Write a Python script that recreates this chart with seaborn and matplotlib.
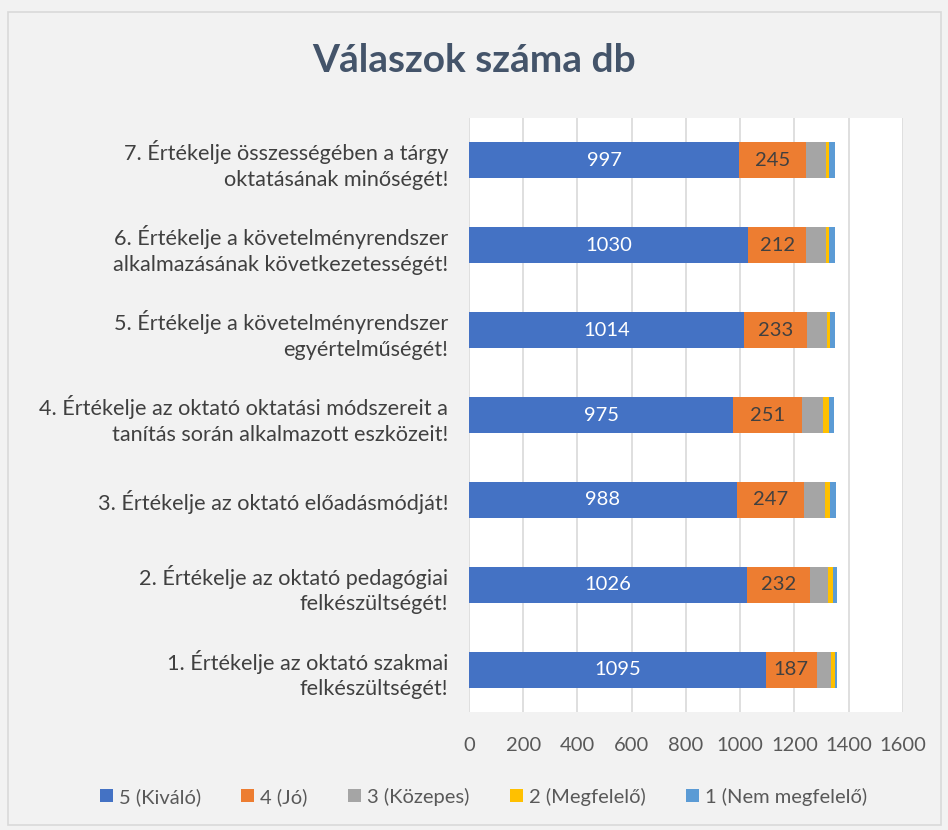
import numpy as np
import pandas as pd
import matplotlib
matplotlib.use("Agg")
import matplotlib.pyplot as plt
from matplotlib.patches import Rectangle, Patch
import seaborn as sns

questions = [
    "7. Értékelje összességében a tárgy\noktatásának minőségét!",
    "6. Értékelje a követelményrendszer\nalkalmazásának következetességét!",
    "5. Értékelje a követelményrendszer\negyértelműségét!",
    "4. Értékelje az oktató oktatási módszereit a\ntanítás során alkalmazott eszközeit!",
    "3. Értékelje az oktató előadásmódját!",
    "2. Értékelje az oktató pedagógiai\nfelkészültségét!",
    "1. Értékelje az oktató szakmai\nfelkészültségét!",
]
series_names = ["5 (Kiváló)", "4 (Jó)", "3 (Közepes)", "2 (Megfelelő)", "1 (Nem megfelelő)"]
v5 = [997, 1030, 1014, 975, 988, 1026, 1095]
v4 = [245, 212, 233, 251, 247, 232, 187]
v3 = [75, 75, 74, 80, 79, 67, 54]
v2 = [11, 11, 11, 22, 18, 18, 14]
v1 = [21, 21, 17, 19, 22, 15, 8]
colors = ["#4472C4", "#ED7D31", "#A5A5A5", "#FFC000", "#5B9BD5"]
label_colors = ["white", "#404040"]
xticks = list(range(0, 1601, 200))

sns.set_theme(style="white")
plt.rcParams["font.family"] = ["Lato", "DejaVu Sans"]

fig = plt.figure(figsize=(9.48, 8.3), dpi=100, facecolor="#F2F2F2")
ax = fig.add_axes([0.4947, 0.142, 0.4578, 0.716])
ax.set_facecolor("white")

vals = np.array([v5, v4, v3, v2, v1])
cum = vals.cumsum(axis=0)
df = pd.DataFrame({"q": questions})
for k in range(len(series_names) - 1, -1, -1):
    df["w"] = cum[k]
    sns.barplot(data=df, x="w", y="q", orient="h", color=colors[k],
                saturation=1, width=0.42, ax=ax, zorder=3, linewidth=0)

# value labels for the two largest segments
for k in range(2):
    for i in range(len(questions)):
        left = cum[k][i] - vals[k][i]
        ax.text(left + vals[k][i] / 2, i, str(vals[k][i]), ha="center", va="center",
                fontsize=14.5, color=label_colors[k], zorder=4)

ax.set_xlim(0, 1600)
ax.set_xticks(xticks)
ax.set_xticklabels([str(t) for t in xticks], fontsize=14.5, color="#595959")
ax.tick_params(axis="y", labelsize=15.6, labelcolor="#404040", pad=15, length=0)
ax.tick_params(axis="x", pad=18, length=0)
for lab in ax.get_yticklabels():
    lab.set_linespacing(1.35)
ax.set_xlabel("")
ax.set_ylabel("")
ax.grid(axis="x", color="#D9D9D9", linewidth=1.2, zorder=0)
sns.despine(ax=ax, left=True, bottom=True)

fig.suptitle("Válaszok száma db", x=0.5, y=0.948, fontsize=28, fontweight="bold",
             color="#44546A")

handles = [Patch(facecolor=c, edgecolor="none") for c in colors]
fig.legend(handles, series_names, loc="center", bbox_to_anchor=(0.51, 0.04), ncol=5,
           frameon=False, fontsize=14.5, labelcolor="#595959", handlelength=0.65,
           handleheight=0.65, handletextpad=0.3, columnspacing=2.0)

fig.patches.append(Rectangle((0.008, 0.006), 0.985, 0.98, transform=fig.transFigure,
                             fill=False, edgecolor="#D9D9D9", linewidth=1.2))

fig.savefig("out.png", dpi=100, facecolor=fig.get_facecolor())
